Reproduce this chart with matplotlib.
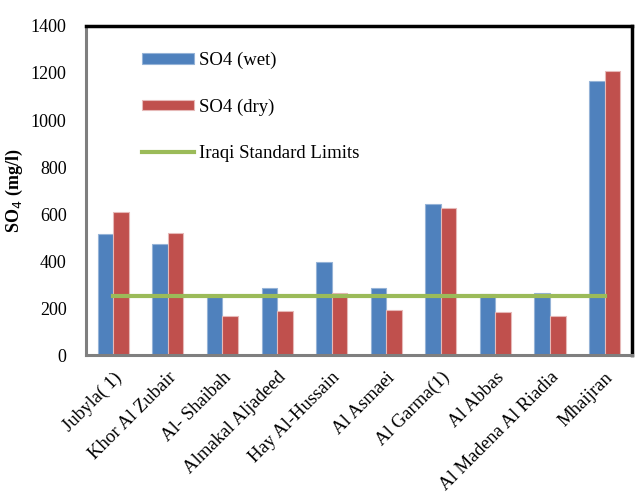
import numpy as np
import matplotlib.pyplot as plt

plt.rcParams['font.family'] = ['Liberation Serif', 'DejaVu Serif']

# Sampling sites and sulphate concentrations (mg/l)
sites = ['Jubyla( 1)', 'Khor Al Zubair', 'Al- Shaibah', 'Almakal Aljadeed',
         'Hay Al-Hussain', 'Al Asmaei', 'Al Garma(1)', 'Al Abbas',
         'Al Madena Al Riadia', 'Mhaijran']
so4_wet = [515, 474, 248, 284, 394, 285, 641, 258, 262, 1164]
so4_dry = [607, 520, 166, 186, 264, 191, 627, 181, 166, 1208]
iraqi_limit = [250] * len(sites)

x = np.arange(len(sites))
width = 0.285

fig = plt.figure(figsize=(6.35, 4.98), dpi=100)
ax = fig.add_axes([0.1354, 0.2871, 0.8598, 0.6607])

wet = ax.bar(x - width / 2, so4_wet, width, color='#4F81BD', edgecolor='#95B3D7',
             linewidth=0.8, label='SO4 (wet)', zorder=2)
dry = ax.bar(x + width / 2, so4_dry, width, color='#C0504D', edgecolor='#E6B9B8',
             linewidth=0.8, label='SO4 (dry)', zorder=2)
limit, = ax.plot(x, iraqi_limit, color='#9BBB59', linewidth=3,
                 label='Iraqi Standard Limits', zorder=3)

ax.set_xlim(-0.5, len(sites) - 0.5)
ax.set_ylim(0, 1400)
ax.set_yticks(np.arange(0, 1401, 200))
ax.set_xticks(x)
ax.set_xticklabels(sites, rotation=45, ha='right', va='top',
                   rotation_mode='anchor', fontsize=13.5)
ax.tick_params(axis='y', length=0, labelsize=13, pad=14)
ax.tick_params(axis='x', length=0, pad=10)

ax.set_ylabel('SO$_4$ (mg/l)', fontsize=13, fontweight='bold')
ax.yaxis.set_label_coords(-0.112, 0.5)

# Frame: grey axis lines on left/bottom, black border on top/right
for side in ('left', 'bottom'):
    ax.spines[side].set_color('#7F7F7F')
    ax.spines[side].set_linewidth(2.2)
for side in ('top', 'right'):
    ax.spines[side].set_color('black')
    ax.spines[side].set_linewidth(2.5)

ax.legend(handles=[wet, dry, limit], loc='upper left',
          bbox_to_anchor=(0.2236, 0.8956), bbox_transform=fig.transFigure,
          frameon=False, fontsize=13.5, handlelength=2.77, handleheight=0.5,
          labelspacing=1.55, handletextpad=0.27, borderpad=0, borderaxespad=0)

fig.savefig('out.png', dpi=100)
